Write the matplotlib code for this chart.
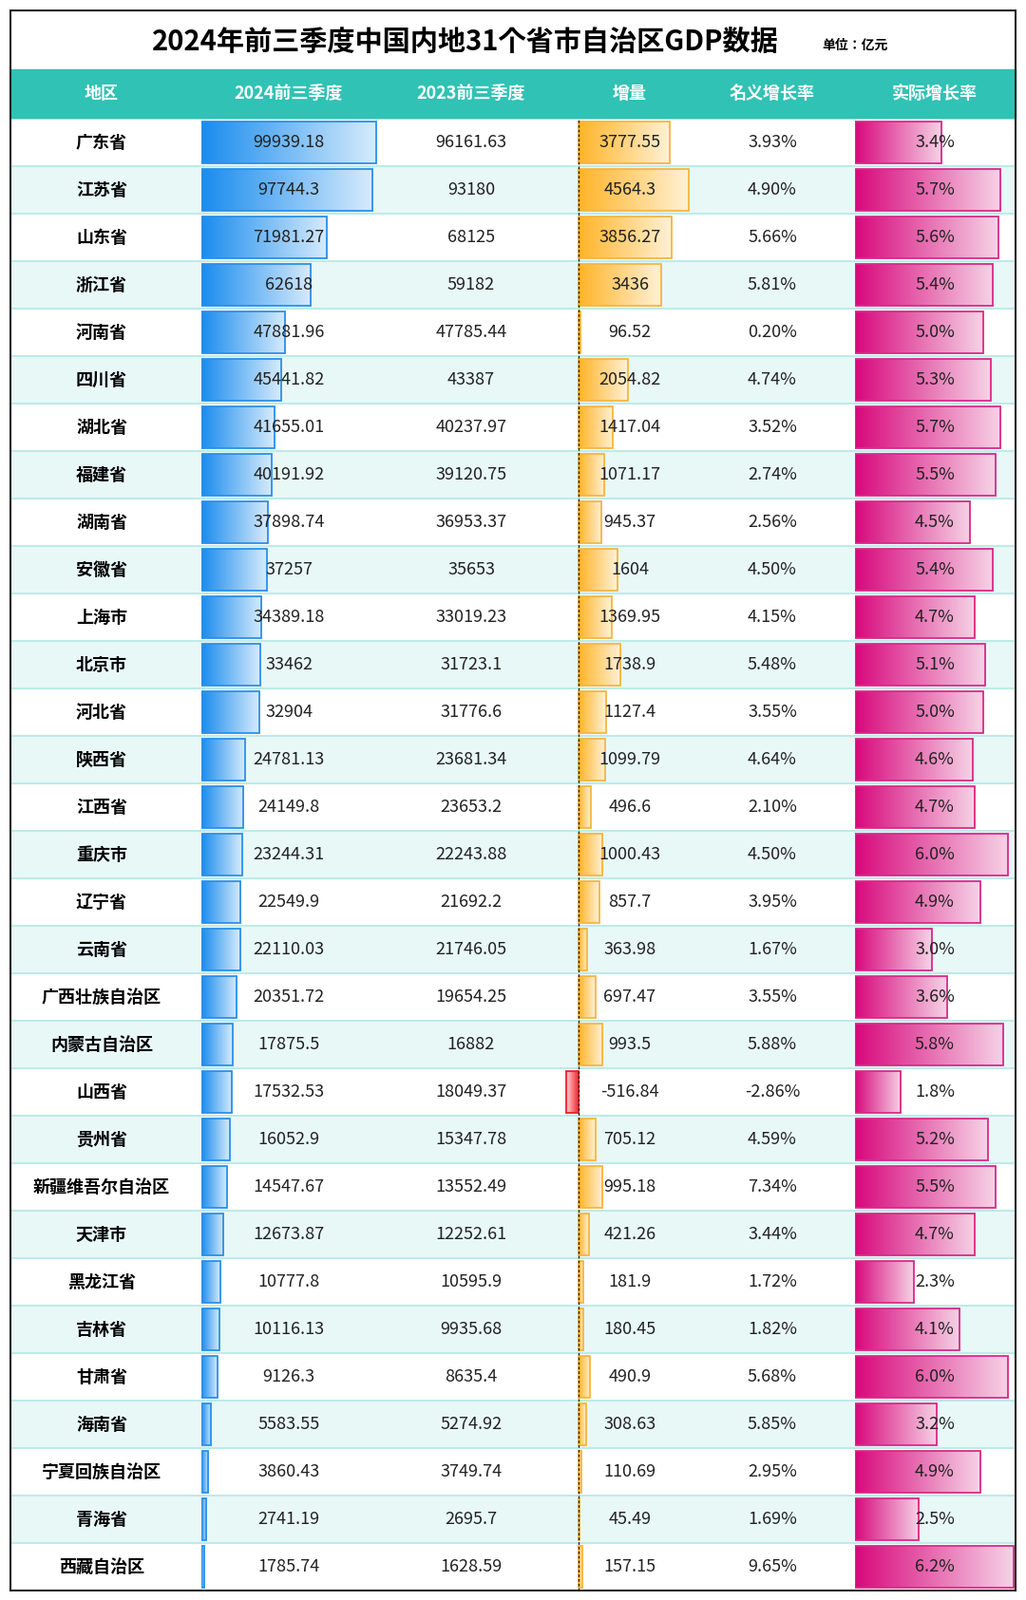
import numpy as np
import matplotlib
matplotlib.use("Agg")
import matplotlib.pyplot as plt
from matplotlib.colors import LinearSegmentedColormap
from matplotlib.patches import Rectangle

regions = ["广东省","江苏省","山东省","浙江省","河南省","四川省","湖北省","福建省","湖南省","安徽省",
           "上海市","北京市","河北省","陕西省","江西省","重庆市","辽宁省","云南省","广西壮族自治区","内蒙古自治区",
           "山西省","贵州省","新疆维吾尔自治区","天津市","黑龙江省","吉林省","甘肃省","海南省","宁夏回族自治区","青海省","西藏自治区"]
gdp2024 = ["99939.18","97744.3","71981.27","62618","47881.96","45441.82","41655.01","40191.92","37898.74","37257",
           "34389.18","33462","32904","24781.13","24149.8","23244.31","22549.9","22110.03","20351.72","17875.5",
           "17532.53","16052.9","14547.67","12673.87","10777.8","10116.13","9126.3","5583.55","3860.43","2741.19","1785.74"]
gdp2023 = ["96161.63","93180","68125","59182","47785.44","43387","40237.97","39120.75","36953.37","35653",
           "33019.23","31723.1","31776.6","23681.34","23653.2","22243.88","21692.2","21746.05","19654.25","16882",
           "18049.37","15347.78","13552.49","12252.61","10595.9","9935.68","8635.4","5274.92","3749.74","2695.7","1628.59"]
increment = ["3777.55","4564.3","3856.27","3436","96.52","2054.82","1417.04","1071.17","945.37","1604",
             "1369.95","1738.9","1127.4","1099.79","496.6","1000.43","857.7","363.98","697.47","993.5",
             "-516.84","705.12","995.18","421.26","181.9","180.45","490.9","308.63","110.69","45.49","157.15"]
nominal = ["3.93%","4.90%","5.66%","5.81%","0.20%","4.74%","3.52%","2.74%","2.56%","4.50%",
           "4.15%","5.48%","3.55%","4.64%","2.10%","4.50%","3.95%","1.67%","3.55%","5.88%",
           "-2.86%","4.59%","7.34%","3.44%","1.72%","1.82%","5.68%","5.85%","2.95%","1.69%","9.65%"]
real = [3.4,5.7,5.6,5.4,5.0,5.3,5.7,5.5,4.5,5.4,4.7,5.1,5.0,4.6,4.7,6.0,4.9,3.0,3.6,5.8,
        1.8,5.2,5.5,4.7,2.3,4.1,6.0,3.2,4.9,2.5,6.2]
headers = ["地区","2024前三季度","2023前三季度","增量","名义增长率","实际增长率"]
title = "2024年前三季度中国内地31个省市自治区GDP数据"
unit = "单位：亿元"

W, H = 1080, 1685
CJK = ["Noto Sans CJK SC", "Noto Sans CJK JP", "Noto Sans CJK TC", "DejaVu Sans"]
fig = plt.figure(figsize=(W/100, H/100), dpi=100)
ax = fig.add_axes([0, 0, 1, 1])
ax.set_xlim(0, W); ax.set_ylim(H, 0); ax.axis("off")

L, R, T, B = 11, 1069, 11, 1675
HT, HB = 73, 124
ROW0, RH = 125, 50.0
n = len(regions)

ax.add_patch(Rectangle((L, HT), R-L, HB-HT, color="#30C2B4", zorder=1))
for i in range(n):
    y = ROW0 + i*RH
    ax.add_patch(Rectangle((L, y), R-L, RH, color="#E8F8F7" if i % 2 else "white", zorder=0))
    ax.plot([L, R], [y, y], color="#BDEBE8", lw=1.5, zorder=0.5)

def inset(x0, x1):
    a = fig.add_axes([x0/W, 1-(ROW0+n*RH)/H, (x1-x0)/W, n*RH/H])
    a.patch.set_alpha(0); a.axis("off")
    return a

def grad_bars(a, vals, c0, c1, edge, xlim):
    cmap = LinearSegmentedColormap.from_list("g", [c0, c1])
    bars = a.barh(np.arange(n), vals, height=0.88, color="none", edgecolor=edge, lw=1.3, zorder=3)
    g = np.linspace(0, 1, 256).reshape(1, -1)
    ims = []
    for b, v in zip(bars, vals):
        y0 = b.get_y(); h = b.get_height()
        im = a.imshow(g, cmap=cmap, extent=[0, v, y0+h, y0], aspect="auto", zorder=2)
        im.set_clip_path(b)
        ims.append(im)
    a.set_xlim(*xlim); a.set_ylim(n-0.5, -0.5)
    return bars, ims

a1 = inset(212, 400)
v1 = [float(s) for s in gdp2024]
grad_bars(a1, v1, "#1A8CEE", "#D6EBFC", "#2A8FEA", (0, 100000*188/184))

a2 = inset(540, 740)
v2 = [float(s) for s in increment]
scale = 0.02543
bars, ims = grad_bars(a2, v2, "#FFB428", "#FFF2D8", "#F7B540", (-(609-540)/scale, (740-609)/scale))
cmap_r = LinearSegmentedColormap.from_list("r", ["#F01820", "#FFD6DA"])
for b, im, v in zip(bars, ims, v2):
    if v < 0:
        b.set_edgecolor("#E8202A")
        im.set_cmap(cmap_r)
a2.axvline(0, color="#222", lw=1, ls=(0, (2, 1.5)), zorder=4)

a3 = inset(900, 1070)
grad_bars(a3, real, "#D8087C", "#F6D3E6", "#D82A88", (0, 170/26.9))

# text overlay on top
ov = fig.add_axes([0, 0, 1, 1])
ov.patch.set_alpha(0)
ov.set_xlim(0, W); ov.set_ylim(H, 0); ov.axis("off")
ov.add_patch(Rectangle((L, T), R-L, B-T, fill=False, ec="#222222", lw=1.5))
ov.text(490, 44, title, fontfamily=CJK, fontweight="bold", fontsize=21, ha="center", va="center")
ov.text(900, 48, unit, fontfamily=CJK, fontweight="bold", fontsize=10, ha="center", va="center")
colx = [107, 304, 496, 663, 813, 984]
for x, h in zip(colx, headers):
    ov.text(x, (HT+HB)/2, h, fontfamily=CJK, fontweight="bold", fontsize=13, color="white", ha="center", va="center")
for i in range(n):
    y = ROW0 + (i+0.5)*RH
    ov.text(colx[0], y, regions[i], fontfamily=CJK, fontweight="bold", fontsize=13, ha="center", va="center")
    ov.text(colx[1], y, gdp2024[i], fontfamily=CJK, fontsize=13, color="#222", ha="center", va="center")
    ov.text(colx[2], y, gdp2023[i], fontfamily=CJK, fontsize=13, color="#222", ha="center", va="center")
    ov.text(colx[3], y, increment[i], fontfamily=CJK, fontsize=13, color="#222", ha="center", va="center")
    ov.text(colx[4], y, nominal[i], fontfamily=CJK, fontsize=13, color="#222", ha="center", va="center")
    ov.text(colx[5], y, f"{real[i]:.1f}%", fontfamily=CJK, fontsize=13, color="#222", ha="center", va="center")

fig.savefig("out.png", dpi=100)
